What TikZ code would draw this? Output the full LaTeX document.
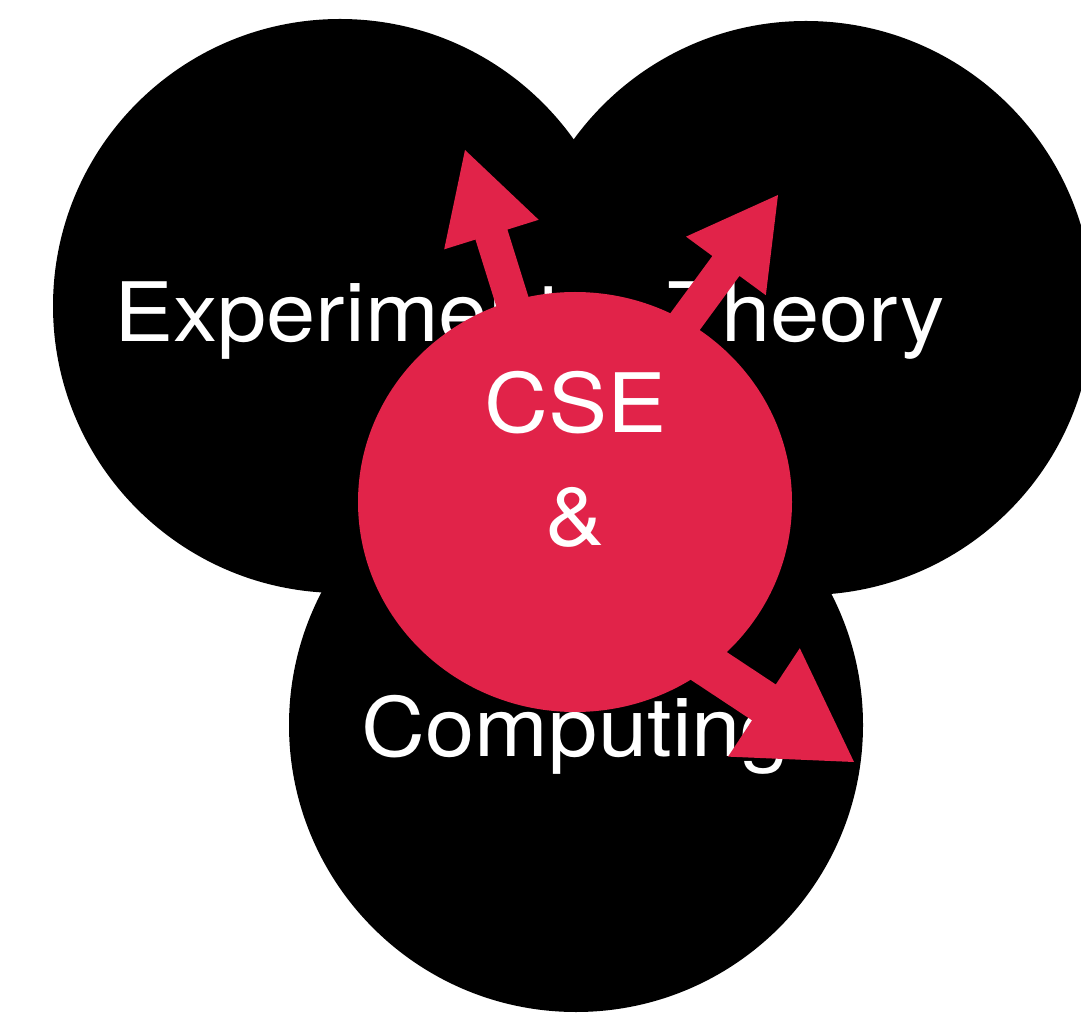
\documentclass[tikz,border=0pt]{standalone}
\usepackage{fontspec}
\setmainfont[FakeStretch=1.08]{TeX Gyre Heros}
\usetikzlibrary{calc,shapes.geometric}
\definecolor{csered}{RGB}{225,35,73}

% Block arrow: #1 start, #2 tip, #3 half shaft width, #4 half head width, #5 head length
\newcommand{\cseArrow}[5]{%
  \coordinate (hb) at ($(#2)!#5!(#1)$);
  \fill[csered] ($(#1)!#3!90:(#2)$) -- ($(hb)!#3!90:(#2)$) -- ($(hb)!#4!90:(#2)$)
    -- (#2) -- ($(hb)!#4!-90:(#2)$) -- ($(hb)!#3!-90:(#2)$) -- ($(#1)!#3!-90:(#2)$) -- cycle;
}

\begin{document}
\begin{tikzpicture}[x=1pt,y=1pt,
  disc/.style={circle, fill=black, minimum size=574pt, inner sep=0pt, outer sep=0pt},
  blob/.style={ellipse, fill=csered, minimum width=434pt, minimum height=420pt, inner sep=0pt, outer sep=0pt},
  word/.style={text=white, anchor=base, inner sep=0pt, font=\fontsize{82}{100}\selectfont}]
\useasboundingbox (0,0) rectangle (1081,1013);
\fill[white] (0,0) rectangle (1081,1013);
\clip (0,0) rectangle (1081,1013);

% the three fields
\node[disc] (exp) at (340,707) {};
\node[disc] (thy) at (806,705) {};
\node[disc] (cmp) at (576,288) {};
\node[word] (expT) at (338,671) {Experiment};
\node[word] (thyT) at (806,671) {Theory};
\node[word] (cmpT) at (576,257) {Computing};

% the centre and its arrows
\node[blob] (core) at (575,511) {};
\coordinate (tipA) at (465,863);
\coordinate (srcB) at (560,521);
\coordinate (tipB) at (778,818);
\coordinate (srcC) at (597,421);
\coordinate (tipC) at (854,251);
\cseArrow{core.center}{tipA}{16.75pt}{49.5pt}{88.6pt}
\cseArrow{srcB}{tipB}{16.8pt}{49.5pt}{88pt}
\cseArrow{srcC}{tipC}{21.5pt}{65pt}{108pt}

\node[word] (cse) at (576,580) {CSE};
\node[word] (amp) at (575,467) {\&};
\end{tikzpicture}
\end{document}
